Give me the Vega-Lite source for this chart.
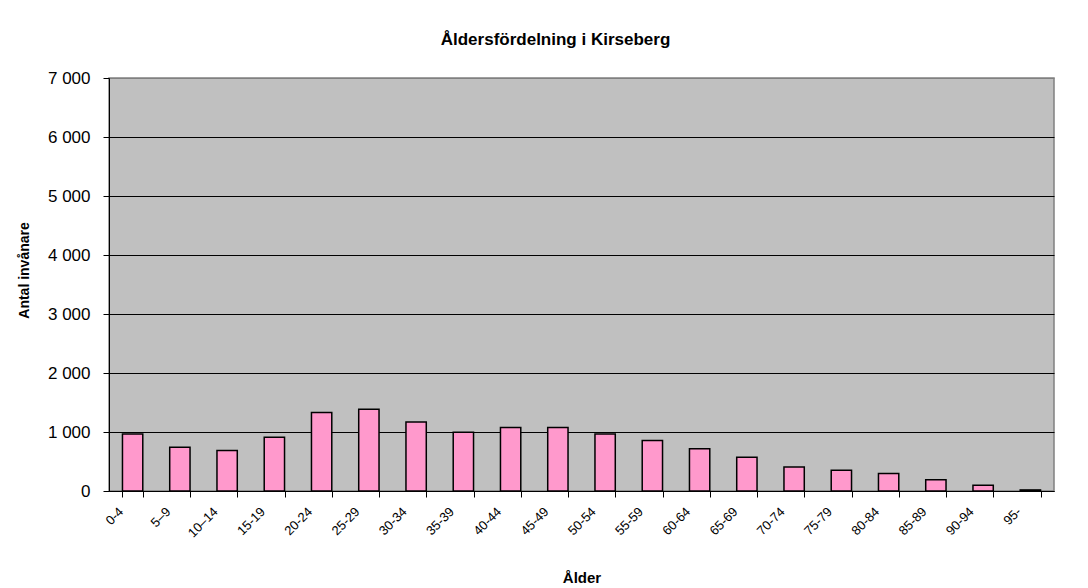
{
  "$schema": "https://vega.github.io/schema/vega-lite/v6.json",
  "width": 945,
  "height": 413,
  "autosize": {"type": "none"},
  "padding": {"left": 109, "top": 78, "right": 34, "bottom": 97},
  "background": "white",
  "title": {
    "text": "Åldersfördelning i Kirseberg",
    "font": "Liberation Sans",
    "fontSize": 17,
    "fontWeight": "bold",
    "color": "black",
    "anchor": "middle",
    "frame": "group",
    "dx": -26,
    "dy": 24,
    "baseline": "alphabetic",
    "offset": 31
  },
  "data": {
    "values": [
      {"alder": "0-4", "antal": 965},
      {"alder": "5–9", "antal": 740},
      {"alder": "10–14", "antal": 688},
      {"alder": "15-19", "antal": 913},
      {"alder": "20-24", "antal": 1329},
      {"alder": "25-29", "antal": 1387},
      {"alder": "30-34", "antal": 1168},
      {"alder": "35-39", "antal": 994},
      {"alder": "40-44", "antal": 1075},
      {"alder": "45-49", "antal": 1075},
      {"alder": "50-54", "antal": 965},
      {"alder": "55-59", "antal": 855},
      {"alder": "60-64", "antal": 717},
      {"alder": "65-69", "antal": 572},
      {"alder": "70-74", "antal": 405},
      {"alder": "75-79", "antal": 353},
      {"alder": "80-84", "antal": 295},
      {"alder": "85-89", "antal": 191},
      {"alder": "90-94", "antal": 98},
      {"alder": "95-", "antal": 18}
    ]
  },
  "mark": {"type": "bar", "fill": "#FF99CC", "stroke": "black", "strokeWidth": 1.5},
  "encoding": {
    "x": {
      "field": "alder",
      "type": "ordinal",
      "sort": null,
      "scale": {"paddingInner": 0.57, "paddingOuter": 0.285},
      "axis": {
        "title": "Ålder",
        "tickBand": "extent",
        "labelAngle": -45,
        "labelAlign": "right",
        "labelBaseline": "top",
        "labelOffset": -16,
        "labelPadding": 8,
        "labelFont": "Liberation Sans",
        "labelFontSize": 13,
        "labelColor": "black",
        "tickColor": "black",
        "tickSize": 6,
        "domainColor": "black",
        "domainWidth": 1,
        "titleFont": "Liberation Sans",
        "titleFontSize": 15,
        "titleFontWeight": "bold",
        "titleColor": "black",
        "titleY": 91,
        "titleBaseline": "alphabetic"
      }
    },
    "y": {
      "field": "antal",
      "type": "quantitative",
      "scale": {"domain": [0, 7000], "nice": false},
      "axis": {
        "values": [0, 1000, 2000, 3000, 4000, 5000, 6000, 7000],
        "grid": true,
        "gridColor": {"condition": {"test": "datum.value == 7000", "value": "#808080"}, "value": "black"},
        "gridWidth": 1,
        "gridOpacity": 1,
        "domainColor": "black",
        "domainWidth": 1,
        "tickColor": "black",
        "tickSize": 6,
        "labelFont": "Liberation Sans",
        "labelFontSize": 17,
        "labelColor": "black",
        "labelPadding": 13,
        "labelExpr": "replace(format(datum.value, ','), ',', ' ')",
        "title": "Antal invånare",
        "titleFont": "Liberation Sans",
        "titleFontSize": 14,
        "titleFontWeight": "bold",
        "titleColor": "black",
        "titleAngle": -90,
        "titleAlign": "center",
        "titleBaseline": "bottom",
        "titleX": -78,
        "titleY": 192
      }
    }
  },
  "config": {
    "view": {"fill": "#C0C0C0", "stroke": "#808080", "strokeWidth": 1.5}
  }
}
